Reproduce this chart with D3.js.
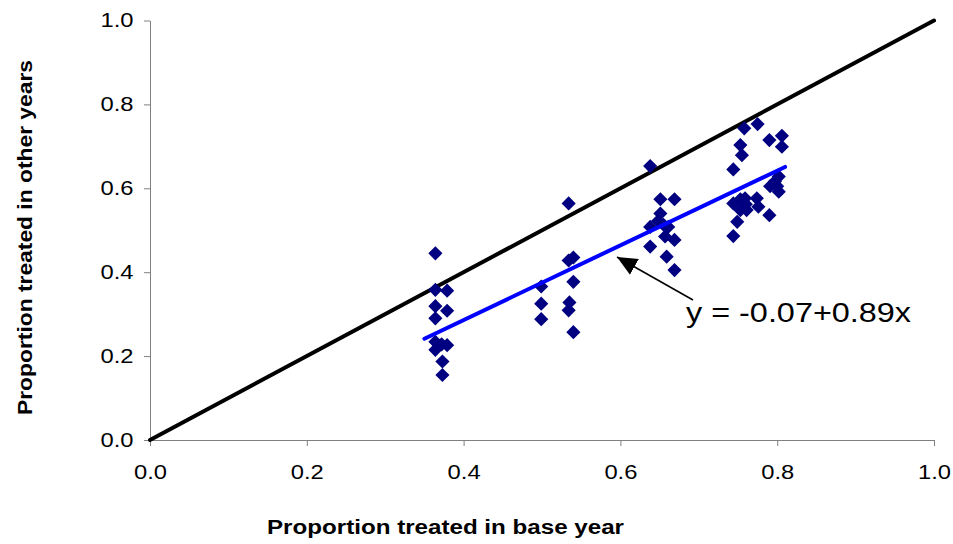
<!DOCTYPE html>
<html><head><meta charset="utf-8">
<script src="https://cdn.jsdelivr.net/npm/d3@7"></script>
<style>body{margin:0;background:#fff}svg{display:block}text{font-family:"Liberation Sans",Arial,sans-serif}</style>
</head><body>
<svg id="c" width="953" height="544"></svg>
<script>
const baseX = [0.364,0.364,0.379,0.364,0.379,0.364,0.364,0.379,0.364,0.373,0.373,0.372,
  0.499,0.499,0.499,0.534,0.540,0.534,0.540,0.535,0.534,0.540,
  0.638,0.651,0.669,0.651,0.638,0.655,0.661,0.657,0.669,0.638,0.659,0.669,0.648,
  0.758,0.775,0.753,0.755,0.744,0.790,0.806,0.806,0.802,0.797,0.802,0.791,0.744,0.753,0.759,0.753,0.761,0.749,0.774,0.776,0.790,0.744,0.800,0.760];
const otherY = [0.445,0.358,0.356,0.319,0.308,0.290,0.234,0.226,0.215,0.187,0.155,0.228,
  0.366,0.325,0.288,0.564,0.435,0.428,0.377,0.328,0.309,0.257,
  0.653,0.574,0.574,0.540,0.508,0.513,0.508,0.485,0.477,0.461,0.437,0.405,0.522,
  0.743,0.753,0.703,0.679,0.645,0.715,0.725,0.699,0.628,0.616,0.592,0.605,0.564,0.574,0.576,0.548,0.548,0.520,0.576,0.556,0.536,0.486,0.605,0.562];
const tickValues = [0,0.2,0.4,0.6,0.8,1.0];
const fitIntercept = -0.07, fitSlope = 0.89;
const fitRange = [0.35, 0.81];
const equationLabel = "y = -0.07+0.89x";
const xTitle = "Proportion treated in base year";
const yTitle = "Proportion treated in other years";

const svg = d3.select("#c");
const x = d3.scaleLinear().domain([0,1]).range([150,934]);
const y = d3.scaleLinear().domain([0,1]).range([440,20.5]);

const xAxis = d3.axisBottom(x).tickValues(tickValues).tickFormat(d3.format(".1f")).tickSizeOuter(0).tickSizeInner(6).tickPadding(19);
const yAxis = d3.axisLeft(y).tickValues(tickValues).tickFormat(d3.format(".1f")).tickSizeOuter(0).tickSizeInner(6).tickPadding(10.5);

const gx = svg.append("g").attr("transform","translate(0,440)").call(xAxis);
const gy = svg.append("g").attr("transform","translate(150,0)").call(yAxis);
[gx,gy].forEach(g=>{
  g.select(".domain").attr("stroke","#808080");
  g.selectAll(".tick line").attr("stroke","#808080");
  g.selectAll(".tick text").attr("fill","#000").style("font-size","19.5px")
    .style("font-family","'Liberation Sans',Arial,sans-serif")
    .attr("textLength",33).attr("lengthAdjust","spacingAndGlyphs");
});

// diagonal
svg.append("line").attr("x1",x(0)).attr("y1",y(0)).attr("x2",x(1)).attr("y2",y(1))
  .attr("stroke","#000").attr("stroke-width",4).attr("stroke-linecap","round");

// points
const sym = d3.symbol().type(d3.symbolSquare).size(100);
svg.append("g").selectAll("path").data(baseX.map((v,i)=>[v,otherY[i]])).join("path")
  .attr("d",sym).attr("fill","#000080")
  .attr("transform",d=>`translate(${x(d[0])},${y(d[1])}) rotate(45)`);

// fit line
svg.append("line").attr("x1",x(fitRange[0])).attr("y1",y(fitIntercept+fitSlope*fitRange[0]))
  .attr("x2",x(fitRange[1])).attr("y2",y(fitIntercept+fitSlope*fitRange[1]))
  .attr("stroke","#0000ff").attr("stroke-width",4).attr("stroke-linecap","round");

// arrow
svg.append("defs").append("marker").attr("id","ah").attr("viewBox","0 0 10 10").attr("refX",10).attr("refY",5)
  .attr("markerWidth",20).attr("markerHeight",20).attr("markerUnits","userSpaceOnUse").attr("orient","auto")
  .append("path").attr("d","M0,0.5 L10,5 L0,9.5 z").attr("fill","#000");
svg.append("line").attr("x1",693).attr("y1",300).attr("x2",617).attr("y2",257)
  .attr("stroke","#000").attr("stroke-width",1.5).attr("marker-end","url(#ah)");

svg.append("text").attr("x",686).attr("y",321.5).style("font-size","28px")
  .attr("textLength",225).attr("lengthAdjust","spacingAndGlyphs").text(equationLabel);

svg.append("text").attr("x",267).attr("y",534).style("font-size","20px").style("font-weight","bold")
  .attr("textLength",357).attr("lengthAdjust","spacingAndGlyphs").text(xTitle);
svg.append("text").attr("transform","translate(32,415) rotate(-90)").style("font-size","21px").style("font-weight","bold")
  .attr("textLength",355).attr("lengthAdjust","spacingAndGlyphs").text(yTitle);
</script>
</body></html>
